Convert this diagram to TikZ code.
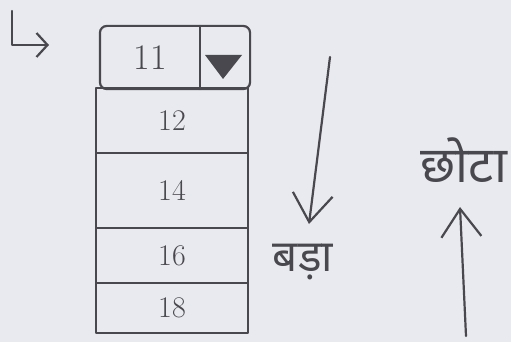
\documentclass[tikz,border=0pt]{standalone}
\usepackage{fontspec}
\newfontfamily\deva[Script=Devanagari]{Noto Sans}
\usetikzlibrary{arrows.meta}
\definecolor{paper}{RGB}{233,234,240}
\definecolor{pen}{RGB}{72,72,78}
\begin{document}
\begin{tikzpicture}[x=1pt,y=-1pt,
  pencil/.style={draw=pen, line width=2.2pt, line cap=round, line join=round},
  cell/.style={pencil, inner sep=0pt, text=pen, font=\fontsize{30}{30}\selectfont},
  barb/.style={-{Straight Barb[length=28pt,width=40pt]}},
  small barb/.style={-{Straight Barb[length=11pt,width=24pt]}},
  lbl/.style={text=pen, inner sep=0pt}]
\fill[paper] (0,0) rectangle (511,342);
\useasboundingbox (0,0) rectangle (511,342);
% L arrow
\coordinate (l0) at (12,11);
\coordinate (l1) at (12,45);
\coordinate (l2) at (49,45);
\draw[pencil, small barb] (l0) -- (l1) -- (l2);
% top row (selected value + dropdown button)
\node[cell, draw=none, minimum width=98pt, minimum height=61pt, font=\fontsize{36}{36}\selectfont] (c11) at (150,57.5) {11};
\node[cell, draw=none, minimum width=50pt, minimum height=61pt] (drop) at (224,57.5) {};
\draw[pencil, rounded corners=7pt] (c11.north west) rectangle (drop.south east);
\draw[pencil] (c11.north east) -- (c11.south east);
\fill[pen] (205,55) -- (242,55) -- (223,79) -- cycle;
% list rows
\node[cell, minimum width=152pt, minimum height=65pt] (c12) at (172,120.5) {12};
\node[cell, minimum width=152pt, minimum height=75pt] (c14) at (172,190.5) {14};
\node[cell, minimum width=152pt, minimum height=55pt] (c16) at (172,255.5) {16};
\node[cell, minimum width=152pt, minimum height=50pt] (c18) at (172,308) {18};
% down arrow
\coordinate (d0) at (330,57);
\coordinate (d1) at (309,224);
\draw[pencil, barb] (d0) -- (d1);
\node[lbl, font=\deva\fontsize{44}{44}\selectfont] (big) at (303,262) {बड़ा};
% up arrow
\coordinate (u0) at (466,336);
\coordinate (u1) at (460,207);
\draw[pencil, barb] (u0) -- (u1);
\node[lbl, font=\deva\fontsize{50}{50}\selectfont] (small) at (464,160) {छोटा};
\end{tikzpicture}
\end{document}
